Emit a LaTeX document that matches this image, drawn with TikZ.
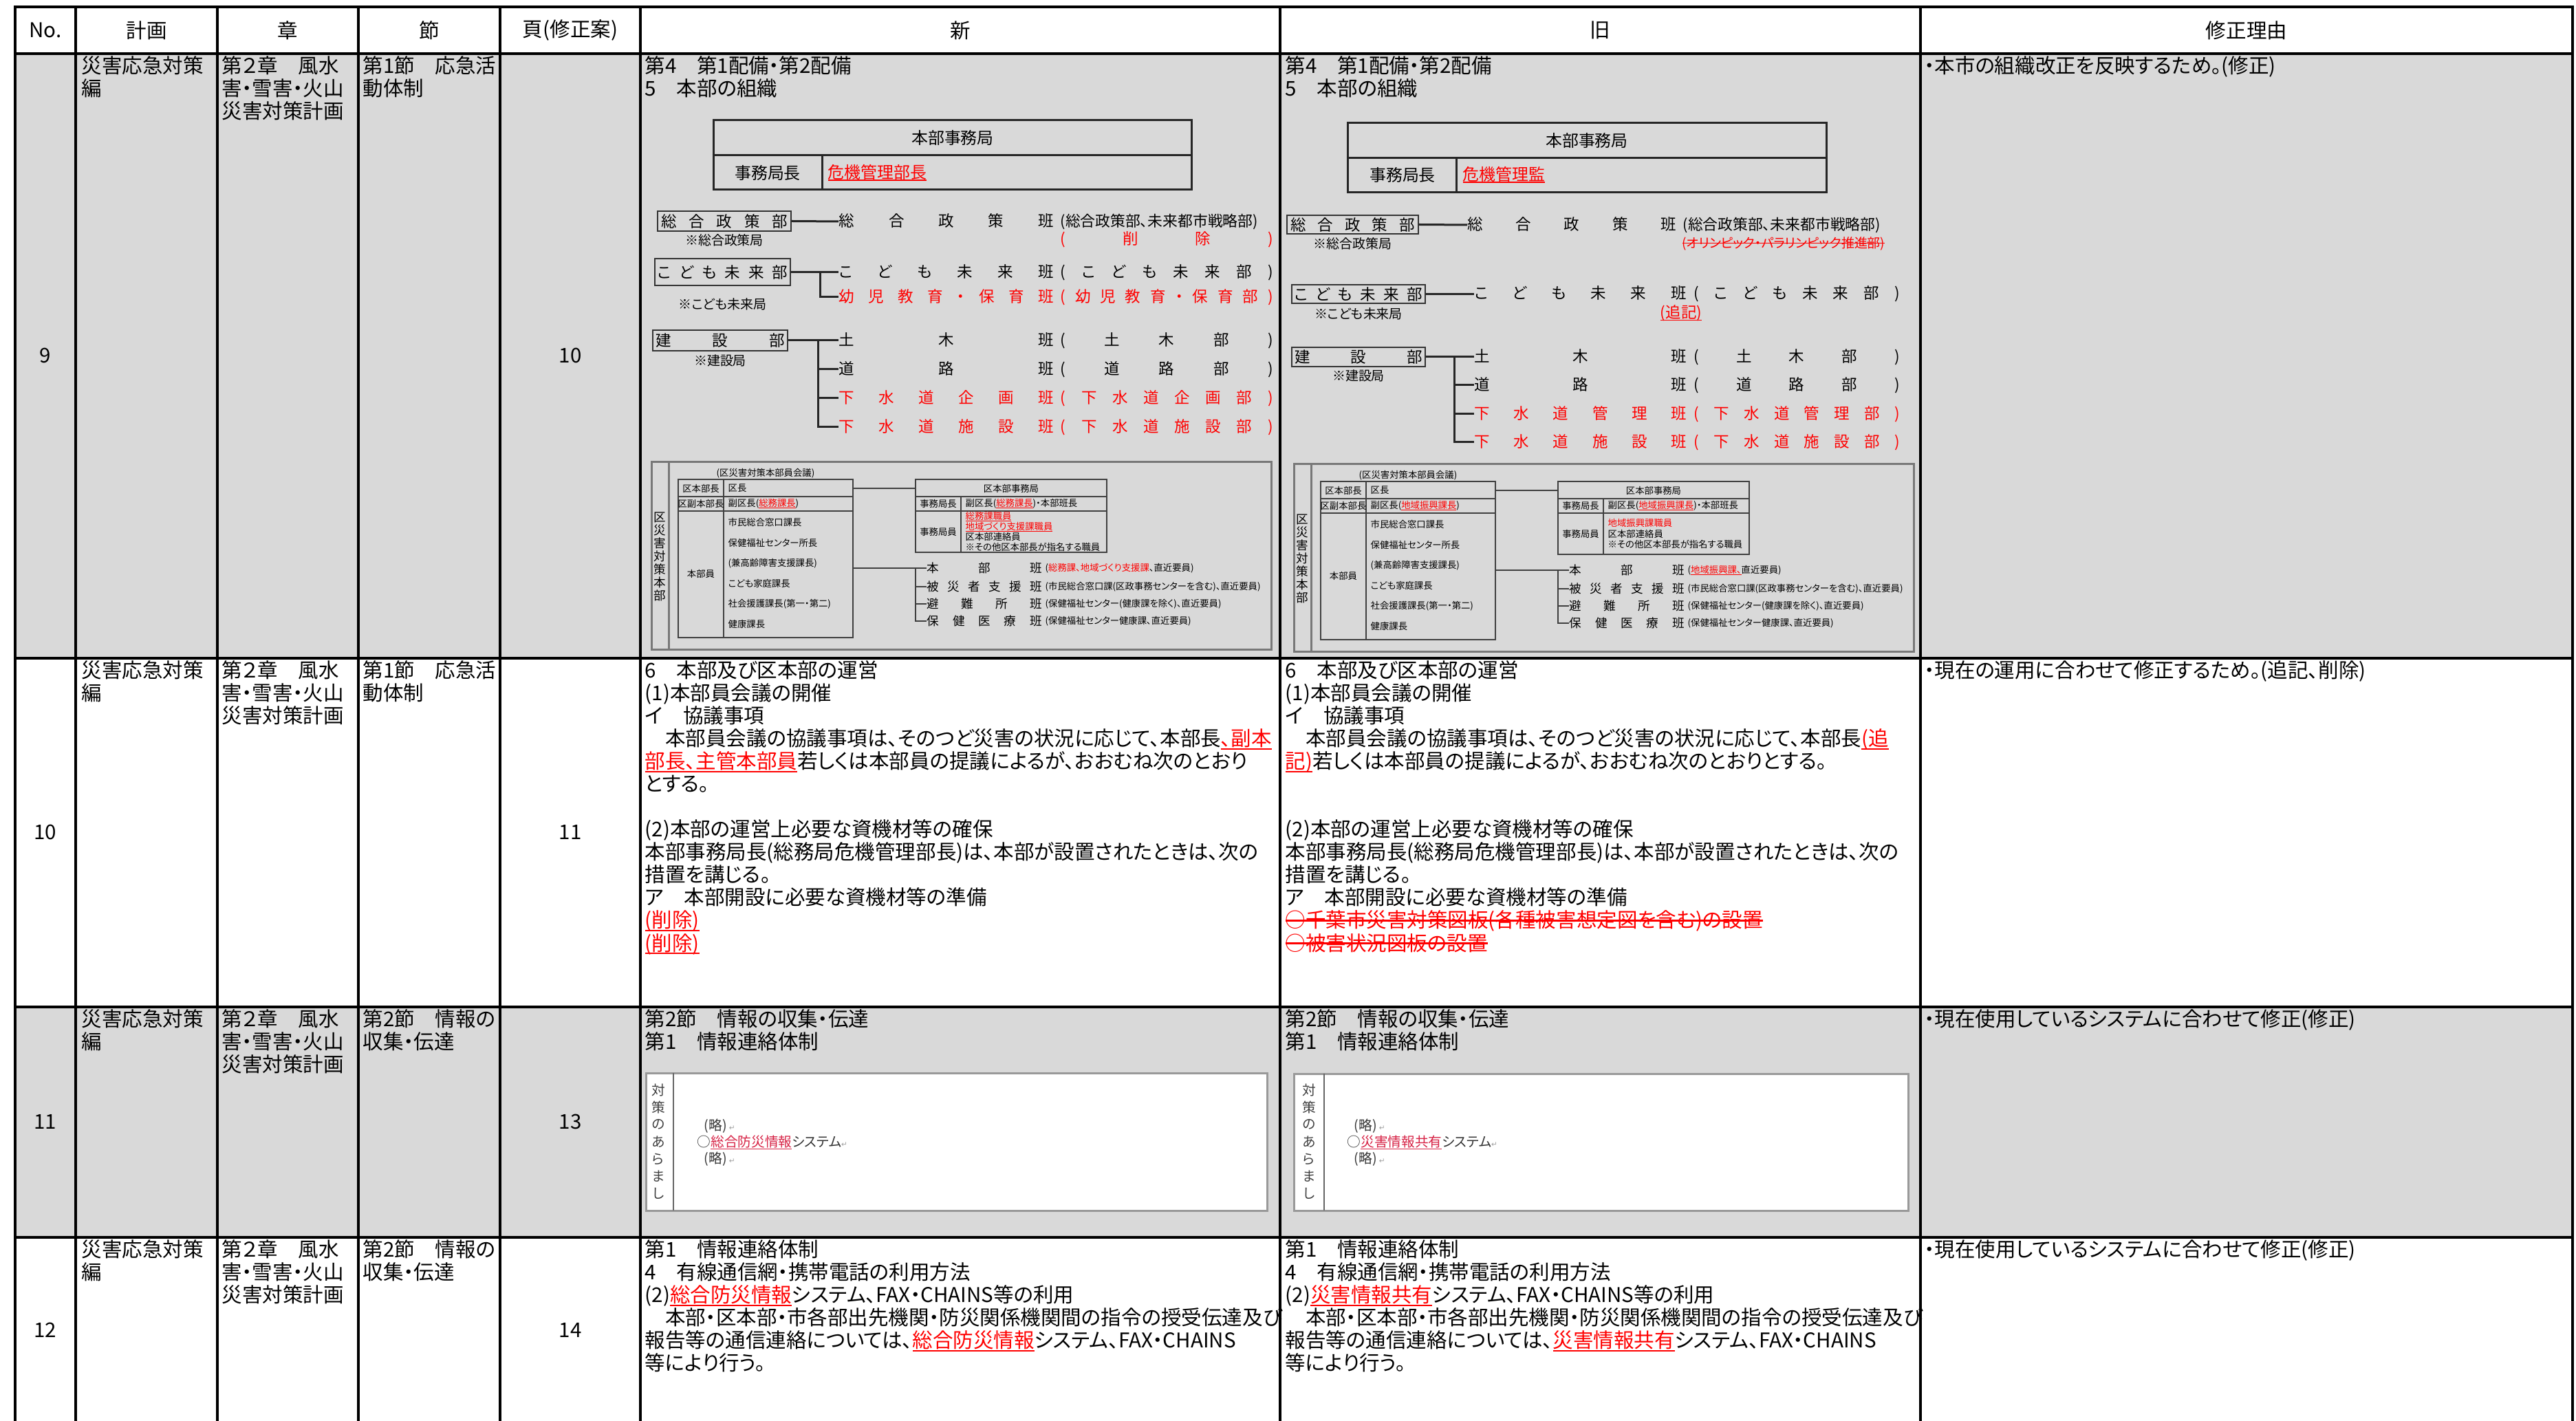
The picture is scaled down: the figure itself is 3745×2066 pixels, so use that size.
\documentclass[tikz,border=0pt]{standalone}
\usepackage{fontspec}
\usetikzlibrary{positioning}
\setmainfont{Noto Sans CJK JP}[RawFeature=+palt]
\newfontfamily\markfont{DejaVu Sans}
\definecolor{rowgray}{RGB}{217,217,217}
\definecolor{framegray}{RGB}{120,120,120}
\definecolor{hired}{RGB}{255,0,0}
\definecolor{shotred}{RGB}{215,35,70}
\definecolor{markgray}{RGB}{160,160,160}
\newsavebox\linebox
\newcommand{\uln}[1]{\sbox\linebox{#1}\rlap{\rule[-0.17em]{\wd\linebox}{0.07em}}\usebox\linebox}
\newcommand{\sln}[1]{\sbox\linebox{#1}\rlap{\rule[0.32em]{\wd\linebox}{0.08em}}\usebox\linebox}
\newcommand{\bodyfont}{\fontsize{8.4pt}{9.4pt}\selectfont}
\newcommand{\hqfont}{\fontsize{6.8pt}{8pt}\selectfont}
\newcommand{\orgfont}{\fontsize{6.4pt}{7.5pt}\selectfont}
\newcommand{\parfont}{\fontsize{6.2pt}{7pt}\selectfont}
\newcommand{\strikefont}{\fontsize{5.4pt}{6pt}\selectfont}
\newcommand{\notefont}{\fontsize{5.4pt}{6pt}\selectfont}
\newcommand{\kufont}{\fontsize{3.8pt}{4.3pt}\selectfont}
\newcommand{\kuteamfont}{\fontsize{5pt}{6pt}\selectfont}
\newcommand{\shotfont}{\fontsize{5.6pt}{6.5pt}\selectfont}
\newcommand{\redtx}[1]{\textcolor{hired}{#1}}
\newcommand{\redul}[1]{\textcolor{hired}{\uln{#1}}}
\newcommand{\redso}[1]{\textcolor{hired}{\sln{#1}}}
\newcommand{\pmark}{{\markfont\fontsize{3pt}{3pt}\selectfont\textcolor{markgray}{↵}}}
\newcommand{\nrow}[2]{\makebox[31.2mm][s]{#1}\hspace{1mm}\makebox[30.9mm][s]{#2}}
\newcommand{\orow}[2]{\makebox[30.8mm][s]{#1}\hspace{1.1mm}\makebox[29.9mm][s]{#2}}
\newcommand{\kuchart}[5]{%
\begin{scope}[shift={#2}]
\draw[kuframe] (0,0) rectangle (901,273);
\draw[kuframe] (25,0) -- (25,273);
\foreach \c [count=\i] in {区,災,害,対,策,本,部}
  \node[kuvert] (#1v\i) at (12,61+19*\i) {\c};
\node[kutext] (#1cap) at (166,16) {(区災害対策本部員会議)};
\node[kutab, minimum width=25.4mm, minimum height=23mm] (#1L) at (166,140) {};
\draw[kutab] (105,25) -- (105,255) (39,50) -- (293,50) (39,71) -- (293,71);
\node[kutext] (#1a1) at (72,38) {区本部長};
\node[kutext, anchor=west] (#1b1) at (111,38) {区長};
\node[kutext] (#1a2) at (72,60.5) {区副本部長};
\node[kutext, anchor=west] (#1b2) at (111,60.5) {副区長(\redul{#3})};
\node[kutext] (#1a3) at (72,162) {本部員};
\foreach \t [count=\i] in {市民総合窓口課長,保健福祉センター所長,(兼高齢障害支援課長),こども家庭課長,社会援護課長(第一・第二),健康課長}
  \node[kutext, anchor=west] (#1m\i) at (111,58+29.6*\i) {\t};
\node[kutab, minimum width=27.8mm, minimum height=10.6mm] (#1R) at (523,78) {};
\draw[kutab] (384,50) -- (662,50) (384,71) -- (662,71) (450,50) -- (450,131);
\node[kutext] (#1e1) at (523,38) {区本部事務局};
\node[kutext] (#1e2) at (417,60.5) {事務局長};
\node[kutext, anchor=west] (#1e3) at (456,60.5) {副区長(\redul{#3})・本部班長};
\node[kutext] (#1e4) at (417,101) {事務局員};
\node[kutext, anchor=west, align=left] (#1e5) at (456,101) {#4};
\draw[kuline] (#1L.east |- #1e1) -- (#1e1 -| #1R.west);
\coordinate (#1j) at (384,154);
\draw[kuline] (#1L.east |- #1j) -- (#1j);
\node[kuteam] (#1t1) at (400,154) {\makebox[16.7mm][s]{本\hfill 部\hfill 班}};
\node[kuteam] (#1t2) at (400,181) {\makebox[16.7mm][s]{被\hfill 災\hfill 者\hfill 支\hfill 援\hfill 班}};
\node[kuteam] (#1t3) at (400,206) {\makebox[16.7mm][s]{避\hfill 難\hfill 所\hfill 班}};
\node[kuteam] (#1t4) at (400,231) {\makebox[16.7mm][s]{保\hfill 健\hfill 医\hfill 療\hfill 班}};
\draw[kuline] (#1j) -- (#1t1.west);
\foreach \k in {2,3,4}
  \draw[kuline] (#1j) |- (#1t\k.west);
\node[kutext, anchor=west] (#1p1) at (572,154) {(#5直近要員)};
\node[kutext, anchor=west] (#1p2) at (572,181) {(市民総合窓口課(区政事務センターを含む)、直近要員)};
\node[kutext, anchor=west] (#1p3) at (572,206) {(保健福祉センター(健康課を除く)、直近要員)};
\node[kutext, anchor=west] (#1p4) at (572,231) {(保健福祉センター健康課、直近要員)};
\end{scope}}
\begin{document}
\begin{tikzpicture}[x=0.1mm, y=-0.1mm,
  grid/.style={line width=0.45mm, line cap=rect},
  body/.style={anchor=north west, inner sep=0, align=left, font=\bodyfont},
  cell/.style={inner sep=0, font=\bodyfont},
  org/.style={inner sep=0, font=\orgfont},
  bar/.style={org, anchor=west},
  note/.style={inner sep=0, font=\notefont},
  dept/.style={draw=black!80, line width=0.2mm, inner sep=0, font=\orgfont},
  orgline/.style={line width=0.3mm, black!85},
  hqbox/.style={draw=black!85, line width=0.3mm, inner sep=0},
  kuframe/.style={draw=framegray, line width=0.3mm},
  kutab/.style={draw=black!75, line width=0.25mm, inner sep=0},
  kuline/.style={line width=0.25mm, black!75},
  kutext/.style={inner sep=0, font=\kufont},
  kuteam/.style={inner sep=0, anchor=west, font=\kuteamfont},
  kuvert/.style={inner sep=0, font=\kuteamfont},
  shot/.style={draw=black!40, line width=0.3mm, fill=white, inner sep=0},
  shotline/.style={line width=0.25mm, black!60},
  shottext/.style={inner sep=0, anchor=west, font=\shotfont, text=black!80},
  vchar/.style={inner sep=0, font=\shotfont, text=black!75}]
\useasboundingbox (0,0) rectangle (3745,2066);
\fill[rowgray] (22,78) rectangle (3740,957);
\fill[rowgray] (22,1464) rectangle (3740,1799);
\foreach \t/\x/\n in {No./66/hNo, 計画/213/hPlan, 章/418/hChap, 節/624/hSec, 頁(修正案)/829/hPage, 新/1396/hNew, 旧/2326/hOld, 修正理由/3266/hWhy}
  \node[cell] (\n) at (\x,44) {\t};
\foreach \r/\y in {9/81,10/960,11/1467,12/1802} {
  \node[body] (plan\r) at (118,\y) {災害応急対策\\編};
  \node[body] (chap\r) at (322,\y) {第２章　風水\\害・雪害・火山\\災害対策計画};
}
\foreach \r/\y/\s in {9/81/{第1節　応急活\\動体制},10/960/{第1節　応急活\\動体制},11/1467/{第2節　情報の\\収集・伝達},12/1802/{第2節　情報の\\収集・伝達}}
  \node[body] (sec\r) at (527,\y) {\s};
\foreach \r/\y/\p in {9/517/10,10/1210/11,11/1631/13,12/1934/14} {
  \node[cell] (no\r) at (66,\y) {\r};
  \node[cell] (pg\r) at (829,\y) {\p};
}
\node[body] (why9) at (2797,81) {・本市の組織改正を反映するため。(修正)};
\node[body] (why10) at (2797,960) {・現在の運用に合わせて修正するため。(追記、削除)};
\node[body] (why11) at (2797,1467) {・現在使用しているシステムに合わせて修正(修正)};
\node[body] (why12) at (2797,1802) {・現在使用しているシステムに合わせて修正(修正)};

\node[body] (new9) at (937,81) {第4　第1配備・第2配備\\5　本部の組織};
\node[hqbox, minimum width=69.5mm, minimum height=10.1mm] (nHQ) at (1384.5,225.5) {};
\draw[orgline] (nHQ.west) -- (nHQ.east) (1195,225) -- (1195,276);
\node[org, font=\hqfont] (nHQt) at (1385,200) {本部事務局};
\node[org, font=\hqfont] (nHQc) at (1116,251) {事務局長};
\node[org, font=\hqfont, anchor=west] (nHQn) at (1203,251) {\redul{危機管理部長}};
\node[dept, minimum width=19.4mm, minimum height=2.9mm] (nSogo) at (1053,321.5) {\makebox[18.4mm][s]{総\hfill 合\hfill 政\hfill 策\hfill 部}};
\node[note, below=0.3mm of nSogo] (nSogoL) {※総合政策局};
\node[dept, minimum width=19.7mm, minimum height=3.9mm] (nKodomo) at (1050.5,396) {\makebox[18.9mm][s]{こ\hfill ど\hfill も\hfill 未\hfill 来\hfill 部}};
\node[note, below=1.6mm of nKodomo] (nKodomoL) {※こども未来局};
\node[dept, minimum width=19.6mm, minimum height=3mm] (nKensetsu) at (1047,495) {\makebox[18.8mm][s]{建\hfill 設\hfill 部}};
\node[note, below=0.4mm of nKensetsu] (nKensetsuL) {※建設局};
\node[bar] (nT1) at (1219,322) {\makebox[31.2mm][s]{総\hfill 合\hfill 政\hfill 策\hfill 班}\hspace{1mm}{\parfont (総合政策部、未来都市戦略部)}};
\node[bar, text=hired] (nT1d) at (1541,348) {\makebox[30.9mm][s]{(\hfill 削\hfill 除\hfill )}};
\node[bar] (nT2) at (1219,396) {\nrow{こ\hfill ど\hfill も\hfill 未\hfill 来\hfill 班}{(\hfill こ\hfill ど\hfill も\hfill 未\hfill 来\hfill 部\hfill )}};
\node[bar, text=hired] (nT3) at (1219,432) {\nrow{幼\hfill 児\hfill 教\hfill 育\hfill ・\hfill 保\hfill 育\hfill 班}{(\hfill 幼\hfill 児\hfill 教\hfill 育\hfill ・\hfill 保\hfill 育\hfill 部\hfill )}};
\node[bar] (nT4) at (1219,495) {\nrow{土\hfill 木\hfill 班}{(\hfill 土\hfill 木\hfill 部\hfill )}};
\node[bar] (nT5) at (1219,537) {\nrow{道\hfill 路\hfill 班}{(\hfill 道\hfill 路\hfill 部\hfill )}};
\node[bar, text=hired] (nT6) at (1219,579) {\nrow{下\hfill 水\hfill 道\hfill 企\hfill 画\hfill 班}{(\hfill 下\hfill 水\hfill 道\hfill 企\hfill 画\hfill 部\hfill )}};
\node[bar, text=hired] (nT7) at (1219,621) {\nrow{下\hfill 水\hfill 道\hfill 施\hfill 設\hfill 班}{(\hfill 下\hfill 水\hfill 道\hfill 施\hfill 設\hfill 部\hfill )}};
\coordinate (nKJ) at (1192,396);
\coordinate (nCJ) at (1189,495);
\draw[orgline] (nSogo.east) -- (nT1.west);
\draw[orgline] (nKodomo.east) -- (nT2.west);
\draw[orgline] (nKJ) |- (nT3.west);
\draw[orgline] (nKensetsu.east) -- (nT4.west);
\foreach \k in {5,6,7}
  \draw[orgline] (nCJ) |- (nT\k.west);
\kuchart{nk}{(947,672)}{総務課長}{\redul{総務課職員}\\\redul{地域づくり支援課職員}\\区本部連絡員\\※その他区本部長が指名する職員}{\redtx{総務課、地域づくり支援課}、}

\node[body] (old9) at (1868,81) {第4　第1配備・第2配備\\5　本部の組織};
\node[hqbox, minimum width=69.6mm, minimum height=10.1mm] (oHQ) at (2307,229.5) {};
\draw[orgline] (oHQ.west) -- (oHQ.east) (2117,229.5) -- (2117,280);
\node[org, font=\hqfont] (oHQt) at (2307,204) {本部事務局};
\node[org, font=\hqfont] (oHQc) at (2039,254) {事務局長};
\node[org, font=\hqfont, anchor=west] (oHQn) at (2126,254) {\redul{危機管理監}};
\node[dept, minimum width=19.1mm, minimum height=2.7mm] (oSogo) at (1966.5,326.5) {\makebox[18.1mm][s]{総\hfill 合\hfill 政\hfill 策\hfill 部}};
\node[note, below=0.4mm of oSogo] (oSogoL) {※総合政策局};
\node[dept, minimum width=19.4mm, minimum height=2.7mm] (oKodomo) at (1975,427.5) {\makebox[18.6mm][s]{こ\hfill ど\hfill も\hfill 未\hfill 来\hfill 部}};
\node[note, below=0.5mm of oKodomo] (oKodomoL) {※こども未来局};
\node[dept, minimum width=19.4mm, minimum height=2.8mm] (oKensetsu) at (1975,519) {\makebox[18.6mm][s]{建\hfill 設\hfill 部}};
\node[note, below=0.3mm of oKensetsu] (oKensetsuL) {※建設局};
\node[bar] (oT1) at (2133,327) {\makebox[30.3mm][s]{総\hfill 合\hfill 政\hfill 策\hfill 班}\hspace{1mm}{\parfont (総合政策部、未来都市戦略部)}};
\node[bar, font=\strikefont, anchor=center] (oT1d) at (2593,354) {\redso{(オリンピック・パラリンピック推進部)}};
\node[bar] (oT2) at (2143,427.5) {\orow{こ\hfill ど\hfill も\hfill 未\hfill 来\hfill 班}{(\hfill こ\hfill ど\hfill も\hfill 未\hfill 来\hfill 部\hfill )}};
\node[org] (oAdd) at (2444,455) {\redul{(追記)}};
\node[bar] (oT4) at (2143,519) {\orow{土\hfill 木\hfill 班}{(\hfill 土\hfill 木\hfill 部\hfill )}};
\node[bar] (oT5) at (2143,560) {\orow{道\hfill 路\hfill 班}{(\hfill 道\hfill 路\hfill 部\hfill )}};
\node[bar, text=hired] (oT6) at (2143,602) {\orow{下\hfill 水\hfill 道\hfill 管\hfill 理\hfill 班}{(\hfill 下\hfill 水\hfill 道\hfill 管\hfill 理\hfill 部\hfill )}};
\node[bar, text=hired] (oT7) at (2143,643) {\orow{下\hfill 水\hfill 道\hfill 施\hfill 設\hfill 班}{(\hfill 下\hfill 水\hfill 道\hfill 施\hfill 設\hfill 部\hfill )}};
\coordinate (oCJ) at (2114,519);
\draw[orgline] (oSogo.east) -- (oT1.west);
\draw[orgline] (oKodomo.east) -- (oT2.west);
\draw[orgline] (oKensetsu.east) -- (oT4.west);
\foreach \k in {5,6,7}
  \draw[orgline] (oCJ) |- (oT\k.west);
\kuchart{ok}{(1881,675)}{地域振興課長}{\redtx{地域振興課職員}\\区本部連絡員\\※その他区本部長が指名する職員}{\redul{地域振興課、}}

\node[body] (new10) at (937,960) {6　本部及び区本部の運営\\(1)本部員会議の開催\\イ　協議事項\\　本部員会議の協議事項は、そのつど災害の状況に応じて、本部長\redul{、副本}\\\redul{部長、主管本部員}若しくは本部員の提議によるが、おおむね次のとおり\\とする。\\~\\(2)本部の運営上必要な資機材等の確保\\本部事務局長(総務局危機管理部長)は、本部が設置されたときは、次の\\措置を講じる。\\ア　本部開設に必要な資機材等の準備\\\redul{(削除)}\\\redul{(削除)}};
\node[body] (old10) at (1868,960) {6　本部及び区本部の運営\\(1)本部員会議の開催\\イ　協議事項\\　本部員会議の協議事項は、そのつど災害の状況に応じて、本部長\redul{(追}\\\redul{記)}若しくは本部員の提議によるが、おおむね次のとおりとする。\\~\\~\\(2)本部の運営上必要な資機材等の確保\\本部事務局長(総務局危機管理部長)は、本部が設置されたときは、次の\\措置を講じる。\\ア　本部開設に必要な資機材等の準備\\\redso{○千葉市災害対策図板(各種被害想定図を含む)の設置}\\\redso{○被害状況図板の設置}};

\node[body] (new11) at (937,1467) {第2節　情報の収集・伝達\\第1　情報連絡体制};
\node[shot, minimum width=90.3mm, minimum height=20mm] (nShot) at (1390.5,1660) {};
\draw[shotline] (979,1560) -- (979,1760);
\foreach \c [count=\i] in {対,策,の,あ,ら,ま,し}
  \node[vchar] (nS\i) at (957,1560+25*\i) {\c};
\node[shottext] (nSa) at (1023,1637) {(略)\,\pmark};
\node[shottext] (nSb) at (1013,1661) {○\textcolor{shotred}{\uln{総合防災情報}}システム\pmark};
\node[shottext] (nSc) at (1023,1685) {(略)\,\pmark};
\node[body] (old11) at (1868,1467) {第2節　情報の収集・伝達\\第1　情報連絡体制};
\node[shot, minimum width=89.3mm, minimum height=19.9mm] (oShot) at (2327.5,1660.5) {};
\draw[shotline] (1925,1561) -- (1925,1760);
\foreach \c [count=\i] in {対,策,の,あ,ら,ま,し}
  \node[vchar] (oS\i) at (1903,1560+25*\i) {\c};
\node[shottext] (oSa) at (1968,1637) {(略)\,\pmark};
\node[shottext] (oSb) at (1958,1661) {○\textcolor{shotred}{\uln{災害情報共有}}システム\pmark};
\node[shottext] (oSc) at (1968,1685) {(略)\,\pmark};

\node[body] (new12) at (937,1802) {第1　情報連絡体制\\4　有線通信網・携帯電話の利用方法\\(2)\redul{総合防災情報}システム、FAX・CHAINS等の利用\\　本部・区本部・市各部出先機関・防災関係機関間の指令の授受伝達及び\\報告等の通信連絡については、\redul{総合防災情報}システム、FAX・CHAINS\\等により行う。};
\node[body] (old12) at (1868,1802) {第1　情報連絡体制\\4　有線通信網・携帯電話の利用方法\\(2)\redul{災害情報共有}システム、FAX・CHAINS等の利用\\　本部・区本部・市各部出先機関・防災関係機関間の指令の授受伝達及び\\報告等の通信連絡については、\redul{災害情報共有}システム、FAX・CHAINS\\等により行う。};

\foreach \y in {10,78,957,1464,1799}
  \draw[grid] (22,\y) -- (3740,\y);
\foreach \x in {22,110,316,521,727,931,1861,2792,3740}
  \draw[grid] (\x,10) -- (\x,2066);
\end{tikzpicture}
\end{document}
